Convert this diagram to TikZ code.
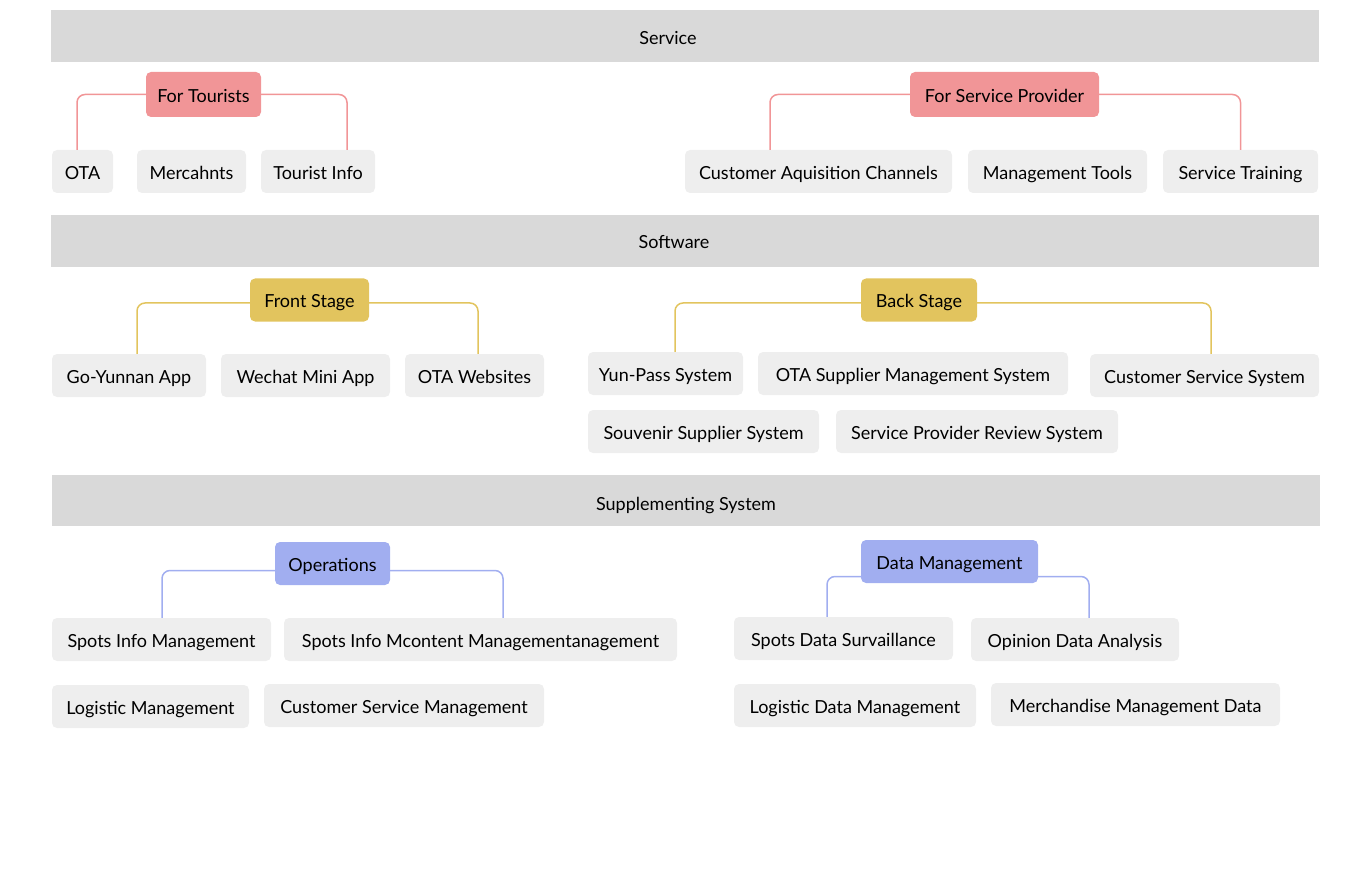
\documentclass[tikz,border=0pt]{standalone}
\usepackage{fontspec}
\setmainfont{Lato}
\usetikzlibrary{calc}
\definecolor{bargray}{HTML}{D9D9D9}
\definecolor{leafgray}{HTML}{EEEEEE}
\definecolor{hubred}{HTML}{F19597}
\definecolor{hubyellow}{HTML}{E2C45E}
\definecolor{hubblue}{HTML}{A1AEF0}

\tikzset{
  bar/.style={fill=bargray, inner sep=0pt, minimum height=52pt},
  leaf/.style={fill=leafgray, rounded corners=5pt, inner sep=0pt, minimum height=43pt,
    text height=16pt, text depth=0pt, font=\fontsize{18}{21}\selectfont},
  hub/.style={leaf, fill=#1},
  link/.style={draw=#1, line width=1.5pt, rounded corners=8pt},
  title/.style={text height=16pt, text depth=0pt, font=\fontsize{18}{21}\selectfont}
}

\begin{document}
\begin{tikzpicture}[x=1pt,y=-1pt]
\useasboundingbox (0,0) rectangle (1372,890);
% bars
\node (svcbar)[bar, minimum width=1268pt] at (685,36) {};
\node (softbar)[bar, minimum width=1268pt] at (685,241) {};
\node (suppbar)[bar, minimum width=1268pt, minimum height=51pt] at (686,500.5) {};
\node (svc)[title] at (668,37) {Service};
\node (soft)[title] at (674,241) {Software};
\node (supp)[title] at (686,502) {Supplementing System};

% hubs
\node (tour)[hub=hubred, minimum width=115pt, minimum height=45pt] at (203.5,94.5) {For Tourists};
\node (prov)[hub=hubred, minimum width=189pt, minimum height=45pt] at (1004.5,94.5) {For Service Provider};
\node (front)[hub=hubyellow, minimum width=119pt] at (309.5,300) {Front Stage};
\node (back)[hub=hubyellow, minimum width=116pt] at (919,300) {Back Stage};
\node (oper)[hub=hubblue, minimum width=115pt] at (332.5,563.5) {Operations};
\node (dm)[hub=hubblue, minimum width=177pt] at (949.5,561.5) {Data Management};

% leaves
\foreach \name/\x/\y/\w/\txt in {
  ota/82.5/171.5/61/{OTA}, merc/191.5/171.5/109/{Mercahnts}, tinfo/318/171.5/114/{Tourist Info},
  cac/818.5/171.5/267/{Customer Aquisition Channels}, mtool/1057.5/171.5/179/{Management Tools},
  strain/1240.5/171.5/155/{Service Training},
  goy/129/375.5/154/{Go-Yunnan App}, wech/305.5/375.5/169/{Wechat Mini App}, otaw/474.5/375.5/139/{OTA Websites},
  yun/665.5/373.5/155/{Yun-Pass System}, otas/913/373.5/310/{OTA Supplier Management System},
  css/1204.5/375.5/229/{Customer Service System},
  souv/703.5/431.5/231/{Souvenir Supplier System}, sprs/977/431.5/282/{Service Provider Review System},
  sim/161.5/639.5/219/{Spots Info Management}, simc/480.5/639.5/393/{Spots Info Mcontent Managementanagement},
  logm/150.5/706.5/197/{Logistic Management}, csm/404/705.5/280/{Customer Service Management},
  sds/843.5/638.5/219/{Spots Data Survaillance}, oda/1075/639.5/208/{Opinion Data Analysis},
  ldm/855/705.5/242/{Logistic Data Management}, mmd/1135.5/704.5/289/{Merchandise Management Data}}
  \node (\name)[leaf, minimum width=\w pt] at (\x,\y) {\txt};

% connectors
\foreach \from/\side/\to/\dx/\dy/\col in {
  tour/west/ota/-5.5/0/hubred, tour/east/tinfo/29/0/hubred,
  prov/west/cac/-48.5/0/hubred, prov/east/strain/0/0/hubred,
  front/west/goy/8/3/hubyellow, front/east/otaw/3.5/3/hubyellow,
  back/west/yun/9.5/3/hubyellow, back/east/css/6.5/3/hubyellow,
  oper/west/sim/0.5/7/hubblue, oper/east/simc/22.5/7/hubblue,
  dm/west/sds/-16.5/15/hubblue, dm/east/oda/14/15/hubblue}
  \draw[link=\col] ($(\from.\side)+(0,\dy)$) -| ([xshift=\dx pt]\to.north);
\end{tikzpicture}
\end{document}
